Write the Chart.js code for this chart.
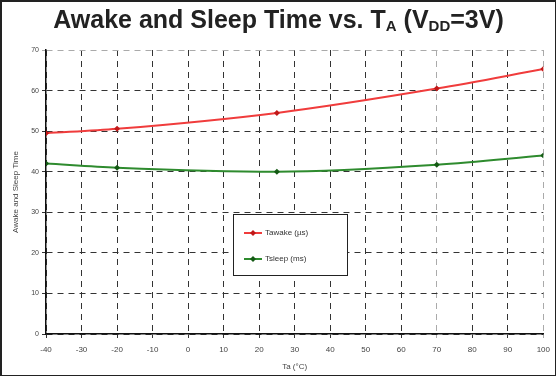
<!DOCTYPE html>
<html>
<head>
<meta charset="utf-8">
<script src="https://cdn.jsdelivr.net/npm/chart.js@4/dist/chart.umd.min.js"></script>
<style>
  html, body { margin: 0; padding: 0; background: #fff; }
  #wrap { position: relative; width: 556px; height: 376px; box-sizing: border-box; border: 2px solid #222; border-right-width: 1px; border-bottom-width: 1px; overflow: hidden; }
  #title { position: absolute; left: 0; top: 3px; width: 100%; text-align: center; font: bold 25px "Liberation Sans", Arial, sans-serif; color: #222; }
  #title sub { font-size: 15px; vertical-align: -3px; }
  canvas { position: absolute; left: 0; top: 0; }
</style>
</head>
<body>
<div id="wrap">
  <canvas id="myChart" width="555" height="373"></canvas>
  <div id="title">Awake and Sleep Time vs. T<sub>A</sub> (V<sub>DD</sub>=3V)</div>
</div>
<script>
'use strict';
// temperatures (°C) where the curves were read
const temps = [-40, -20, 25, 70, 100];
const awake = [49.5, 50.6, 54.5, 60.5, 65.3];   // Tawake (µs)
const sleep = [42.0, 41.0, 40.0, 41.7, 44.0];   // Tsleep (ms)
const xTicks = [-40, -30, -20, -10, 0, 10, 20, 30, 40, 50, 60, 70, 80, 90, 100];
const yTicks = [0, 10, 20, 30, 40, 50, 60, 70];
const seriesNames = ['Tawake (µs)', 'Tsleep (ms)'];

function toPoints(ys){
  return temps.map((t, i) => ({x: t, y: ys[i]}));
}

// legend box drawn inside the plot, like the original
const boxLegend = {
  id: 'boxLegend',
  afterDatasetsDraw(chart){
    const ctx = chart.ctx;
    const x = 231, y = 212, w = 114, h = 61;
    ctx.save();
    ctx.fillStyle = '#fff';
    ctx.fillRect(x, y, w, h);
    ctx.strokeStyle = '#222';
    ctx.lineWidth = 1;
    ctx.strokeRect(x + 0.5, y + 0.5, w, h);
    ctx.font = '8px "Liberation Sans", Arial, sans-serif';
    ctx.textBaseline = 'middle';
    chart.data.datasets.forEach((ds, i) => {
      const ly = y + 19 + i * 26;
      ctx.strokeStyle = ds.borderColor;
      ctx.lineWidth = 2;
      ctx.beginPath();
      ctx.moveTo(x + 11, ly);
      ctx.lineTo(x + 29, ly);
      ctx.stroke();
      ctx.fillStyle = ds.pointBackgroundColor;
      ctx.beginPath();
      ctx.moveTo(x + 20, ly - 3);
      ctx.lineTo(x + 23, ly);
      ctx.lineTo(x + 20, ly + 3);
      ctx.lineTo(x + 17, ly);
      ctx.closePath();
      ctx.fill();
      ctx.fillStyle = '#333';
      ctx.fillText(ds.label, x + 32, ly);
    });
    ctx.restore();
  }
};

const gridColor = (c) => (c.tick && (c.tick.value === 70 || c.tick.value === 100)) ? '#aaa' : '#333';
const smallFont = { size: 8, family: '"Liberation Sans", Arial, sans-serif' };

new Chart(document.getElementById('myChart').getContext('2d'), {
  type: 'line',
  data: {
    datasets: [{
      label: seriesNames[0],
      data: toPoints(awake),
      borderColor: '#f03c3c',
      backgroundColor: '#f03c3c',
      pointBackgroundColor: '#c01818',
      pointBorderWidth: 0,
      pointStyle: 'rectRot',
      pointRadius: 3,
      borderWidth: 2,
      cubicInterpolationMode: 'monotone'
    }, {
      label: seriesNames[1],
      data: toPoints(sleep),
      borderColor: '#2e8b2e',
      backgroundColor: '#2e8b2e',
      pointBackgroundColor: '#145a14',
      pointBorderWidth: 0,
      pointStyle: 'rectRot',
      pointRadius: 3,
      borderWidth: 2,
      cubicInterpolationMode: 'monotone'
    }]
  },
  options: {
    responsive: false,
    animation: false,
    layout: { padding: { top: 48, right: 9, left: 0, bottom: 0 } },
    plugins: {
      legend: { display: false },
      tooltip: { enabled: false }
    },
    scales: {
      x: {
        type: 'linear',
        min: -40, max: 100,
        afterBuildTicks: (s) => { s.ticks = xTicks.map(v => ({value: v})); },
        afterFit: (s) => { s.height = 41; },
        grid: { color: gridColor, lineWidth: 1, tickLength: 4 },
        border: { display: true, color: '#111', width: 1.5, dash: [6, 5] },
        ticks: { color: '#444', font: smallFont, padding: 7, maxRotation: 0 },
        title: { display: true, text: 'Ta (°C)', color: '#444', font: smallFont, padding: { top: 1, bottom: 3 } }
      },
      y: {
        min: 0, max: 70,
        afterBuildTicks: (s) => { s.ticks = yTicks.map(v => ({value: v})); },
        afterFit: (s) => { s.width = 44; },
        grid: { color: gridColor, lineWidth: 1, tickLength: 4 },
        border: { display: true, color: '#111', width: 1.5, dash: [6, 5] },
        ticks: { color: '#444', font: { size: 7, family: smallFont.family }, padding: 3 },
        title: { display: true, text: 'Awake and Sleep Time', color: '#444', font: smallFont, padding: { top: 9, bottom: 4 } }
      }
    }
  },
  plugins: [boxLegend]
});
</script>
</body>
</html>
